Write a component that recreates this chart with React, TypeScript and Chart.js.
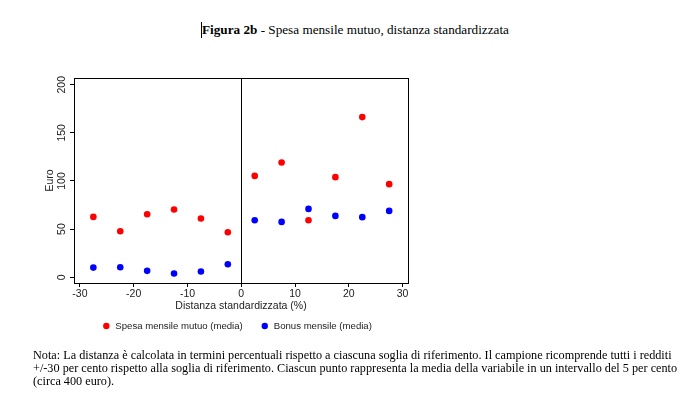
import React, { useEffect, useRef } from "react";
import { Chart, registerables } from "chart.js";

Chart.register(...registerables);

const xCenters = [-27.5, -22.5, -17.5, -12.5, -7.5, -2.5, 2.5, 7.5, 12.5, 17.5, 22.5, 27.5];
const spesaMutuo = [62.7, 47.8, 65.5, 70.3, 61.0, 46.8, 105.3, 119.2, 59.2, 104.0, 166.4, 96.7];
const bonusMensile = [10.0, 10.4, 6.6, 3.8, 5.9, 13.5, 59.2, 57.5, 71.0, 63.7, 62.4, 68.9];
const xTicks = [-30, -20, -10, 0, 10, 20, 30];
const yTicks = [0, 50, 100, 150, 200];
const seriesLabels = ["Spesa mensile mutuo (media)", "Bonus mensile (media)"];
const seriesColors = ["#ff0000", "#0000ff"];
const xTitle = "Distanza standardizzata (%)";
const yTitle = "Euro";
const titleBold = "Figura 2b";
const titleRest = " - Spesa mensile mutuo, distanza standardizzata";
const noteLines = [
  "Nota: La distanza è calcolata in termini percentuali rispetto a ciascuna soglia di riferimento. Il campione ricomprende tutti i redditi",
  "+/-30 per cento rispetto alla soglia di riferimento. Ciascun punto rappresenta la media della variabile in un intervallo del 5 per cento",
  "(circa 400 euro).",
];

const SANS = '"Liberation Sans", Arial, sans-serif';
const SERIF = '"Liberation Serif", "Times New Roman", serif';

const framePlugin = {
  id: "frameBox",
  beforeDatasetsDraw(chart: any) {
    const { ctx, chartArea } = chart;
    ctx.save();
    ctx.strokeStyle = "#000";
    ctx.lineWidth = 1;
    ctx.strokeRect(
      Math.round(chartArea.left) + 0.5,
      Math.round(chartArea.top) + 0.5,
      Math.round(chartArea.right - chartArea.left),
      Math.round(chartArea.bottom - chartArea.top)
    );
    ctx.restore();
  },
};

const legendPlugin = {
  id: "customLegend",
  afterDraw(chart: any) {
    const { ctx, chartArea } = chart;
    const ds = chart.data.datasets;
    ctx.save();
    ctx.font = `9.6px ${SANS}`;
    ctx.textBaseline = "middle";
    ctx.textAlign = "left";
    const r = 3.2;
    const textGap = 9;
    const itemGap = 22;
    const widths = ds.map((d: any) => ctx.measureText(d.label).width);
    let total = r;
    widths.forEach((w: number, i: number) => {
      total += textGap + w + (i < widths.length - 1 ? itemGap : 0);
    });
    const cx = (chartArea.left + chartArea.right) / 2 - 3.5;
    let x = cx - total / 2 + r;
    const y = chartArea.bottom + 43;
    ds.forEach((d: any, i: number) => {
      ctx.fillStyle = d.backgroundColor;
      ctx.beginPath();
      ctx.arc(x, y, r, 0, Math.PI * 2);
      ctx.fill();
      ctx.fillStyle = "#222";
      ctx.fillText(d.label, x + textGap, y);
      x += textGap + widths[i] + itemGap;
    });
    ctx.restore();
  },
};

export default function App() {
  const canvasRef = useRef<HTMLCanvasElement | null>(null);

  useEffect(() => {
    if (!canvasRef.current) return;
    const chart = new Chart(canvasRef.current, {
      type: "scatter",
      data: {
        datasets: [
          {
            label: seriesLabels[0],
            data: xCenters.map((x, i) => ({ x, y: spesaMutuo[i] })),
            backgroundColor: seriesColors[0],
            borderColor: seriesColors[0],
            pointRadius: 3.3,
            borderWidth: 0,
          },
          {
            label: seriesLabels[1],
            data: xCenters.map((x, i) => ({ x, y: bonusMensile[i] })),
            backgroundColor: seriesColors[1],
            borderColor: seriesColors[1],
            pointRadius: 3.3,
            borderWidth: 0,
          },
        ],
      },
      options: {
        responsive: false,
        animation: false,
        devicePixelRatio: 1,
        layout: { padding: { top: 18, right: 32, bottom: 38, left: 0 } },
        plugins: {
          legend: { display: false },
          tooltip: { enabled: false },
          title: { display: false },
        },
        scales: {
          x: {
            type: "linear",
            min: -31.1,
            max: 31,
            afterBuildTicks: (scale: any) => {
              scale.ticks = xTicks.map((v) => ({ value: v }));
            },
            afterFit: (scale: any) => {
              scale.height = 29;
            },
            border: { display: true, color: "#000", width: 1 },
            grid: {
              color: (c: any) => (c.tick && c.tick.value === 0 ? "#000" : "rgba(0,0,0,0)"),
              tickColor: "#000",
              tickLength: 4,
              lineWidth: 1,
            },
            ticks: {
              color: "#222",
              font: { family: SANS, size: 10.5 },
              padding: 1,
              maxRotation: 0,
              autoSkip: false,
            },
            title: {
              display: true,
              text: xTitle,
              color: "#222",
              font: { family: SANS, size: 10.5 },
              padding: { top: 0, bottom: 0 },
            },
          },
          y: {
            type: "linear",
            min: -6,
            max: 207,
            afterBuildTicks: (scale: any) => {
              scale.ticks = yTicks.map((v) => ({ value: v }));
            },
            afterFit: (scale: any) => {
              scale.width = 34;
            },
            border: { display: true, color: "#000", width: 1 },
            grid: {
              drawOnChartArea: false,
              tickColor: "#000",
              tickLength: 4,
            },
            ticks: {
              color: "#222",
              font: { family: SANS, size: 10.5 },
              padding: -1,
              minRotation: 90,
              maxRotation: 90,
              crossAlign: "center",
              autoSkip: false,
            },
            title: {
              display: true,
              text: yTitle,
              color: "#222",
              font: { family: SANS, size: 10.5 },
              padding: { top: 4, bottom: 4 },
            },
          },
        },
      },
      plugins: [framePlugin, legendPlugin],
    } as any);
    return () => chart.destroy();
  }, []);

  return (
    <div style={{ position: "absolute", left: 0, top: 0, width: 699, height: 396, background: "#fff", overflow: "hidden" }}>
      <div
        style={{
          position: "absolute",
          left: 201,
          top: 22,
          fontFamily: SERIF,
          fontSize: 13.2,
          lineHeight: "16px",
          whiteSpace: "nowrap",
          color: "#000",
          borderLeft: "1px solid #000",
        }}
      >
        <b>{titleBold}</b>
        {titleRest}
      </div>
      <canvas
        ref={canvasRef}
        width={400}
        height={290}
        style={{ position: "absolute", left: 40, top: 60, width: 400, height: 290 }}
      />
      <div
        style={{
          position: "absolute",
          left: 33,
          top: 349,
          fontFamily: SERIF,
          fontSize: 12.23,
          lineHeight: "13px",
          whiteSpace: "nowrap",
          color: "#000",
        }}
      >
        {noteLines.map((l, i) => (
          <div key={i}>{l}</div>
        ))}
      </div>
    </div>
  );
}
